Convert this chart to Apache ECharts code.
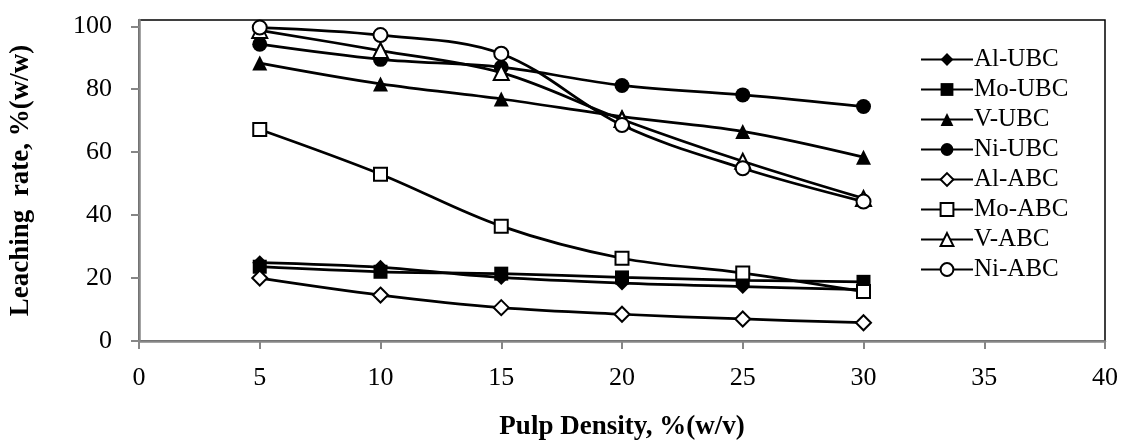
<!DOCTYPE html>
<html>
<head>
<meta charset="utf-8">
<script src="https://cdn.jsdelivr.net/npm/echarts@6/dist/echarts.min.js"></script>
<style>
  html, body { margin: 0; padding: 0; background: #fff; }
  #chart { width: 1121px; height: 446px; }
</style>
</head>
<body>
<div id="chart"></div>
<script>
// pulp density (x values)
let density = [5, 10, 15, 20, 25, 30];

// leaching rate, % (w/w)
let alUBC = [24.9, 23.4, 20.2, 18.4, 17.3, 16.3];
let moUBC = [23.6, 22.0, 21.4, 20.2, 19.3, 18.8];
let vUBC  = [88.3, 81.7, 76.9, 71.3, 66.6, 58.4];
let niUBC = [94.3, 89.5, 87.0, 81.2, 78.2, 74.5];
let alABC = [20.0, 14.6, 10.6, 8.5, 7.0, 5.8];
let moABC = [67.2, 53.0, 36.5, 26.3, 21.6, 15.7];
let vABC  = [98.7, 92.3, 85.3, 70.4, 57.1, 45.3];
let niABC = [99.6, 97.2, 91.3, 68.6, 54.9, 44.3];

let xTicks = [0, 5, 10, 15, 20, 25, 30, 35, 40];
let yTicks = [0, 20, 40, 60, 80, 100];

let serif = '"Liberation Serif", "Times New Roman", serif';

function pairs(ys){
    let out = [];
    for(let i = 0; i < density.length; i++){
        out.push([density[i], ys[i]]);
    }
    return out;
}

function makeSeries(name, ys, symbol, filled, size){
    return {
        name: name,
        type: 'line',
        data: pairs(ys),
        smooth: 0.35,
        symbol: symbol,
        symbolSize: size,
        showAllSymbol: true,
        lineStyle: { color: '#000', width: 2.75 },
        itemStyle: {
            color: filled ? '#000' : '#fff',
            borderColor: '#000',
            borderWidth: filled ? 0 : 2
        },
        emphasis: { disabled: true }
    };
}

let series = [
    makeSeries('Al-UBC', alUBC, 'diamond', true, 15),
    makeSeries('Mo-UBC', moUBC, 'rect', true, 14),
    makeSeries('V-UBC',  vUBC,  'triangle', true, 15),
    makeSeries('Ni-UBC', niUBC, 'circle', true, 15),
    makeSeries('Al-ABC', alABC, 'diamond', false, 15),
    makeSeries('Mo-ABC', moABC, 'rect', false, 13),
    makeSeries('V-ABC',  vABC,  'triangle', false, 15),
    makeSeries('Ni-ABC', niABC, 'circle', false, 14)
];

let axisGray = '#868686';

let option = {
    animation: false,
    backgroundColor: '#fff',
    grid: {
        left: 137, right: 15, top: 20, bottom: 87,
        show: true,
        borderColor: '#000',
        borderWidth: 1.5
    },
    legend: {
        orient: 'vertical',
        left: 915,
        top: 42,
        itemWidth: 52,
        itemHeight: 16,
        itemGap: 5,
        textStyle: { fontFamily: serif, fontSize: 25, color: '#000', lineHeight: 20, padding: [0, 0, 0, -4] },
        data: series.map(function(s){ return s.name; })
    },
    xAxis: {
        type: 'value',
        min: 0,
        max: 40,
        interval: 5,
        name: 'Pulp Density, %(w/v)',
        nameLocation: 'middle',
        nameGap: 73,
        nameTextStyle: { fontFamily: serif, fontSize: 27, fontWeight: 'bold', color: '#000' },
        axisLine: { lineStyle: { color: axisGray, width: 2.5 } },
        axisTick: { show: true, length: 8, lineStyle: { color: axisGray, width: 2 }, customValues: xTicks },
        axisLabel: { fontFamily: serif, fontSize: 26, color: '#000', margin: 24, customValues: xTicks },
        splitLine: { show: false }
    },
    yAxis: {
        type: 'value',
        min: 0,
        max: 102,
        name: 'Leaching  rate, %(w/w)',
        nameLocation: 'middle',
        nameGap: 104,
        nameTextStyle: { fontFamily: serif, fontSize: 27, fontWeight: 'bold', color: '#000' },
        axisLine: { show: true, lineStyle: { color: axisGray, width: 2.5 } },
        axisTick: { show: true, length: 8, lineStyle: { color: axisGray, width: 2 }, customValues: yTicks },
        axisLabel: { fontFamily: serif, fontSize: 26, color: '#000', margin: 27, customValues: yTicks },
        splitLine: { show: false }
    },
    series: series
};

let chart = echarts.init(document.getElementById('chart'), null, { renderer: 'canvas' });
chart.setOption(option);
</script>
</body>
</html>
